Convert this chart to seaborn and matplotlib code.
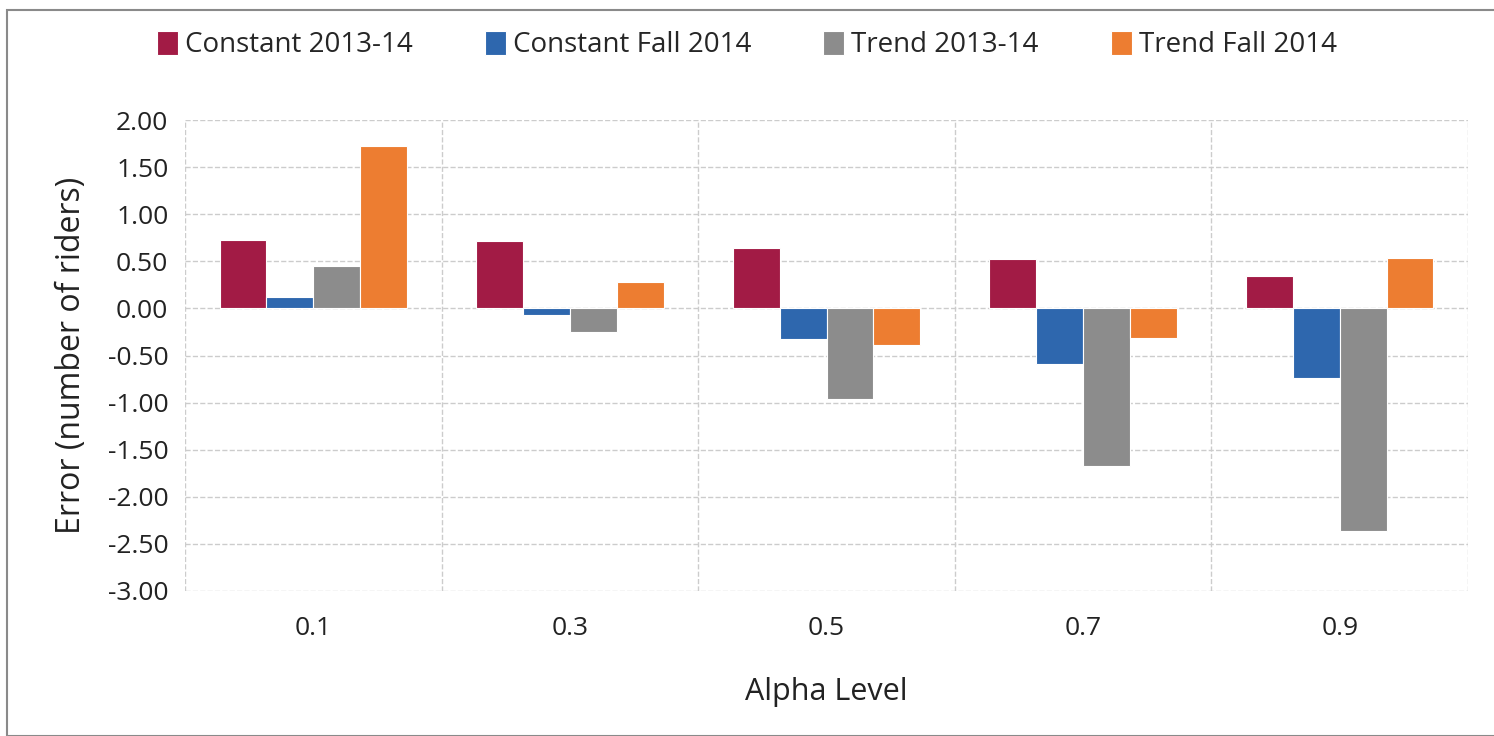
import matplotlib
matplotlib.use("Agg")
import matplotlib.pyplot as plt
import seaborn as sns
import pandas as pd
from matplotlib.patches import Rectangle

# values
alpha = ["0.1", "0.3", "0.5", "0.7", "0.9"]
constant_1314 = [0.73, 0.72, 0.64, 0.52, 0.34]
constant_fall14 = [0.12, -0.07, -0.33, -0.59, -0.74]
trend_1314 = [0.45, -0.25, -0.96, -1.67, -2.36]
trend_fall14 = [1.72, 0.28, -0.39, -0.31, 0.54]
series = ["Constant 2013-14", "Constant Fall 2014", "Trend 2013-14", "Trend Fall 2014"]
colors = ["#A21B45", "#2E67AE", "#8C8C8C", "#ED7D31"]

rows = []
for name, vals in zip(series, [constant_1314, constant_fall14, trend_1314, trend_fall14]):
    for a, v in zip(alpha, vals):
        rows.append({"Alpha Level": a, "Series": name, "Error": v})
df = pd.DataFrame(rows)

sns.set_style("white")
plt.rcParams["font.family"] = ["Open Sans", "DejaVu Sans"]

fig = plt.figure(figsize=(14.94, 7.36), dpi=100)
ax = fig.add_axes([185 / 1494, 1 - 591 / 736, (1468 - 185) / 1494, (591 - 120) / 736])

sns.barplot(data=df, x="Alpha Level", y="Error", hue="Series", hue_order=series,
            palette=colors, width=0.73, gap=0, edgecolor="white", linewidth=0.8,
            saturation=1, ax=ax, zorder=3)

ax.set_ylim(-3, 2)
ax.set_xlim(-0.5, 4.5)
ax.set_yticks([i * 0.5 for i in range(-6, 5)])
ax.set_yticklabels([f"{i * 0.5:.2f}" for i in range(-6, 5)], fontsize=19, color="#222222")
ax.set_xticks(range(5))
ax.set_xticklabels(alpha, fontsize=19, color="#222222")
ax.set_xticks([i - 0.5 for i in range(6)], minor=True)
ax.tick_params(axis="both", which="both", length=0)
ax.tick_params(axis="y", pad=12)
ax.tick_params(axis="x", pad=18)

ax.grid(axis="y", which="major", color="#CCCCCC", linestyle="--", linewidth=1, zorder=0)
ax.grid(axis="x", which="minor", color="#CCCCCC", linestyle="--", linewidth=1, zorder=0)
ax.grid(axis="x", which="major", visible=False)
for s in ax.spines.values():
    s.set_visible(False)

ax.set_xlabel("Alpha Level", fontsize=22, labelpad=26, color="#222222")
ax.set_ylabel("Error (number of riders)", fontsize=23, labelpad=14, color="#222222")

handles, labels = ax.get_legend_handles_labels()
ax.get_legend().remove()
fig.legend(handles, labels, loc="center", bbox_to_anchor=(0.5, 1 - 45 / 736), ncol=4,
           frameon=False, fontsize=20, handlelength=0.75, handleheight=1.0,
           handletextpad=0.25, columnspacing=2.6)

fig.add_artist(Rectangle((7 / 1494, 0.0), 1.0, 1 - 10 / 736, transform=fig.transFigure,
                         fill=False, edgecolor="#8A8A8A", linewidth=1.5))

fig.savefig("out.png", dpi=100)
